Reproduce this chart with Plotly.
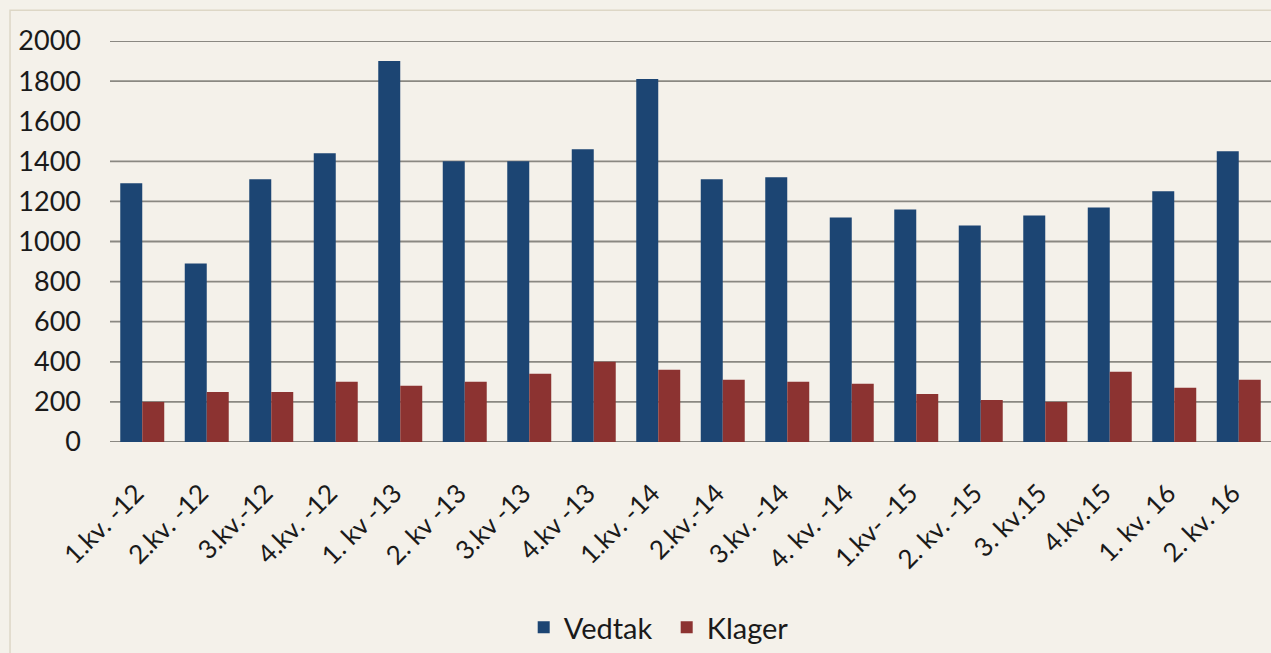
import plotly.graph_objects as go

categories = ["1.kv. -12", "2.kv. -12", "3.kv.-12", "4.kv. -12", "1. kv -13", "2. kv -13",
              "3.kv -13", "4.kv -13", "1.kv. -14", "2.kv.-14", "3.kv. -14", "4. kv. -14",
              "1.kv- -15", "2. kv. -15", "3. kv.15", "4.kv.15", "1. kv. 16", "2. kv. 16"]
vedtak = [1290, 890, 1310, 1440, 1900, 1400, 1400, 1460, 1810, 1310, 1320, 1120,
          1160, 1080, 1130, 1170, 1250, 1450]
klager = [200, 250, 250, 300, 280, 300, 340, 400, 360, 310, 300, 290,
          240, 210, 200, 350, 270, 310]
y_ticks = [0, 200, 400, 600, 800, 1000, 1200, 1400, 1600, 1800, 2000]
grid_values = [0, 200, 400, 600, 800, 1000, 1200, 1400, 1800, 2000]

BG = "#F4F1EA"
FONT = "Lato"
TXT = "#1A1A1A"

fig = go.Figure()
fig.add_trace(go.Bar(name="Vedtak", x=categories, y=vedtak, marker_color="#1C4573",
                     marker_line_width=0))
fig.add_trace(go.Bar(name="Klager", x=categories, y=klager, marker_color="#8C3331",
                     marker_line_width=0))

shapes = [dict(type="rect", xref="paper", yref="paper", x0=-0.0861, x1=1.2, y0=-0.6, y1=1.0767,
               line=dict(color="#DDD7C6", width=1.5), fillcolor=BG, layer="below")]
for g in grid_values:
    shapes.append(dict(type="line", xref="paper", yref="y", x0=0, x1=1, y0=g, y1=g,
                       line=dict(color="#8A8882", width=1.8), layer="below"))

fig.update_layout(
    width=1271, height=653,
    margin=dict(l=110, r=0, t=41, b=208),
    paper_bgcolor=BG, plot_bgcolor="rgba(0,0,0,0)",
    barmode="group", bargap=0.318, bargroupgap=0,
    font=dict(family=FONT, size=27, color=TXT),
    shapes=shapes,
    showlegend=True,
    legend=dict(orientation="h", x=0.4795, xanchor="center", y=-0.463, yanchor="middle",
                font=dict(family=FONT, size=29, color=TXT), bgcolor="rgba(0,0,0,0)",
                itemwidth=30, entrywidth=98, traceorder="normal"),
    xaxis=dict(tickangle=-45, showgrid=False, showline=False, ticks="",
               ticklabelshift=-6, ticklabelstandoff=30,
               tickfont=dict(family=FONT, size=26, color=TXT)),
    yaxis=dict(range=[0, 2000], tickvals=y_ticks, showgrid=False, zeroline=False,
               showline=False, ticks="", ticklabelstandoff=28,
               tickfont=dict(family=FONT, size=27, color=TXT)),
)

fig.write_html("out.html", config={"displayModeBar": False},
               post_script="document.body.style.margin='0';document.body.style.overflow='hidden';")
